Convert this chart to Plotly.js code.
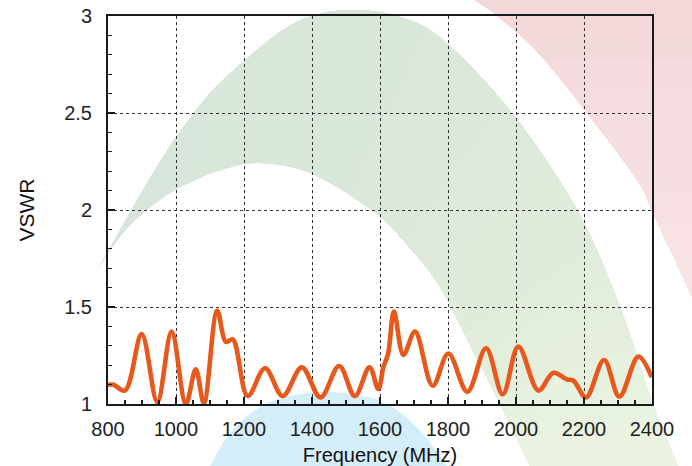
<!DOCTYPE html>
<html>
<head>
<meta charset="utf-8">
<script src="https://cdn.plot.ly/plotly-3.0.1.min.js"></script>
<style>html,body{margin:0;padding:0;background:#fff;}#chart{width:692px;height:466px;}</style>
</head>
<body>
<div id="chart"></div>
<script>
// ---- data ----
const freqMHz = [800, 815, 850, 899, 945, 987, 1029, 1058, 1082, 1121, 1147, 1167, 1211, 1262, 1314, 1370, 1425, 1480, 1526, 1569, 1595, 1610, 1624, 1641, 1669, 1703, 1755, 1801, 1857, 1912, 1961, 2007, 2066, 2110, 2149, 2169, 2206, 2259, 2304, 2360, 2399];
const vswr    = [1.098, 1.10, 1.069, 1.36, 1.01, 1.373, 1.0, 1.179, 1.005, 1.481, 1.32, 1.333, 1.041, 1.184, 1.041, 1.189, 1.034, 1.196, 1.041, 1.189, 1.077, 1.19, 1.26, 1.476, 1.253, 1.373, 1.094, 1.26, 1.063, 1.287, 1.05, 1.296, 1.069, 1.161, 1.127, 1.12, 1.034, 1.227, 1.038, 1.244, 1.138];
const xTickVals = [800, 1000, 1200, 1400, 1600, 1800, 2000, 2200, 2400];
const yTickVals = [1, 1.5, 2, 2.5, 3];
const yTickText = ["1", "1.5", "2", "2.5", "3"];

// ---- figure geometry ----
const W = 692, H = 466, L = 108, R = 40, T = 16, B = 62;
const pw = W - L - R, ph = H - T - B;
const font = "Liberation Sans, Arial, Helvetica, sans-serif";

// ---- decorative background outlines (figure pixel space) ----
const greenOuter = [[95,273],[112,244],[130,212],[150,178],[170,146],[190,118],[213,90],[243,62],[280,32],[312,16],[350,10],[397,16],[443,40],[512,113],[577,210],[620,307],[653,404],[678,466],[684,480]];
const greenInner = [[95,273],[123,233],[147,210],[175,190],[215,172],[257,163],[310,173],[373,211],[410,248],[440,287],[470,345],[502,408],[530,466],[536,480]];
const pinkEdge   = [[466,-5],[497,16],[540,55],[587,113],[637,180],[653,213],[692,297],[700,316]];
const blueEdge   = [[200,480],[210,466],[225,440],[245,418],[270,402],[300,394],[325,392],[352,394],[380,401],[405,416],[428,440],[447,466],[455,480]];

function sample(pts, n) {
  const out = [];
  for (let i = 0; i < pts.length - 1; i++) {
    const p0 = pts[i - 1] || pts[i], p1 = pts[i], p2 = pts[i + 1], p3 = pts[i + 2] || pts[i + 1];
    for (let k = 0; k < n; k++) {
      const t = k / n, t2 = t * t, t3 = t2 * t;
      const f = j => 0.5 * ((2 * p1[j]) + (-p0[j] + p2[j]) * t + (2 * p0[j] - 5 * p1[j] + 4 * p2[j] - p3[j]) * t2 + (-p0[j] + 3 * p1[j] - 3 * p2[j] + p3[j]) * t3);
      out.push([f(0), f(1)]);
    }
  }
  out.push(pts[pts.length - 1]);
  return out;
}
function arcParam(s) {
  const c = [0];
  for (let i = 1; i < s.length; i++) c.push(c[i - 1] + Math.hypot(s[i][0] - s[i - 1][0], s[i][1] - s[i - 1][1]));
  const tot = c[c.length - 1];
  return c.map(v => v / tot);
}
function from(s, u, t0) {
  let r = [];
  for (let i = 1; i < s.length; i++) if (u[i] >= t0) {
    const a = (t0 - u[i - 1]) / ((u[i] - u[i - 1]) || 1);
    r.push([s[i - 1][0] + a * (s[i][0] - s[i - 1][0]), s[i - 1][1] + a * (s[i][1] - s[i - 1][1])]);
    r = r.concat(s.slice(i));
    break;
  }
  return r;
}
const px2paper = p => [((p[0] - L) / pw).toFixed(5), ((H - B - p[1]) / ph).toFixed(5)];
function pathOf(poly) {
  return poly.map((p, i) => (i ? "L" : "M") + px2paper(p).join(",")).join(" ") + " Z";
}
function hex(c) { return "#" + c.map(v => Math.round(v).toString(16).padStart(2, "0")).join(""); }
function mix(stops, t) {
  for (let i = 1; i < stops.length; i++) if (t <= stops[i][0]) {
    const a = (t - stops[i - 1][0]) / (stops[i][0] - stops[i - 1][0]);
    return hex(stops[i - 1][1].map((v, j) => v + a * (stops[i][1][j] - v)));
  }
  return hex(stops[stops.length - 1][1]);
}

const shapes = [];
function addShape(poly, color) {
  shapes.push({ type: "path", xref: "paper", yref: "paper", layer: "below", path: pathOf(poly), fillcolor: color, line: { width: 0 } });
}

// pink band (top right): stacked shapes, each covering the rest of the band -> soft fade, no seams
(function () {
  const s = sample(pinkEdge, 16), u = arcParam(s);
  const N = 12, stops = [[0, [243, 215, 217]], [1, [249, 228, 230]]];
  for (let k = 0; k < N; k++) {
    const edge = from(s, u, k / N);
    addShape(edge.concat([[720, 316], [720, edge[0][1]]]), mix(stops, k / (N - 1)));
  }
})();

// green band: stacked shapes along its length, colour lightening toward the lower right
(function () {
  const so = sample(greenOuter, 16), si = sample(greenInner, 16);
  const uo = arcParam(so), ui = arcParam(si);
  const N = 28;
  const stops = [[0, [216, 229, 218]], [0.45, [217, 230, 218]], [0.72, [225, 235, 219]], [1, [236, 245, 226]]];
  for (let k = 0; k < N; k++) {
    const t0 = k / N;
    const poly = from(so, uo, t0).concat(from(si, ui, t0).reverse());
    addShape(poly, mix(stops, (k + 0.5) / N));
  }
})();

// blue dome (bottom)
addShape(sample(blueEdge, 16), "#d4eef9");

// ---- chart ----
const trace = {
  x: freqMHz, y: vswr, type: "scatter", mode: "lines",
  line: { color: "#e8571b", width: 4.6, shape: "spline", smoothing: 1 },
  hoverinfo: "skip", showlegend: false
};

const axisCommon = {
  showline: true, linecolor: "#1a1a1a", linewidth: 2, mirror: true,
  ticks: "inside", ticklen: 7, tickwidth: 1.3, tickcolor: "#1a1a1a",
  showgrid: true, gridcolor: "#333", griddash: "dot", gridwidth: 1,
  zeroline: false, tickfont: { family: font, size: 20, color: "#222" }
};

const layout = {
  width: W, height: H,
  margin: { l: L, r: R, t: T, b: B, pad: 0 },
  paper_bgcolor: "#ffffff", plot_bgcolor: "rgba(0,0,0,0)",
  showlegend: false,
  xaxis: Object.assign({}, axisCommon, {
    range: [800, 2400], tickmode: "array", tickvals: xTickVals,
    ticklabelstandoff: 6,
    minor: { dtick: 50, tick0: 800, ticks: "inside", ticklen: 4, tickwidth: 1.2, tickcolor: "#1a1a1a", showgrid: false },
    title: { text: "Frequency (MHz)", font: { family: font, size: 20, color: "#111" }, standoff: 10 }
  }),
  yaxis: Object.assign({}, axisCommon, {
    range: [1, 3], tickmode: "array", tickvals: yTickVals, ticktext: yTickText,
    ticklabelstandoff: 10,
    minor: { dtick: 0.1, tick0: 1, ticks: "inside", ticklen: 4, tickwidth: 1.2, tickcolor: "#1a1a1a", showgrid: false },
    title: { text: "VSWR", font: { family: font, size: 21, color: "#111" }, standoff: 24 }
  }),
  shapes: shapes
};

Plotly.newPlot("chart", [trace], layout, { displayModeBar: false, staticPlot: true });
</script>
</body>
</html>
